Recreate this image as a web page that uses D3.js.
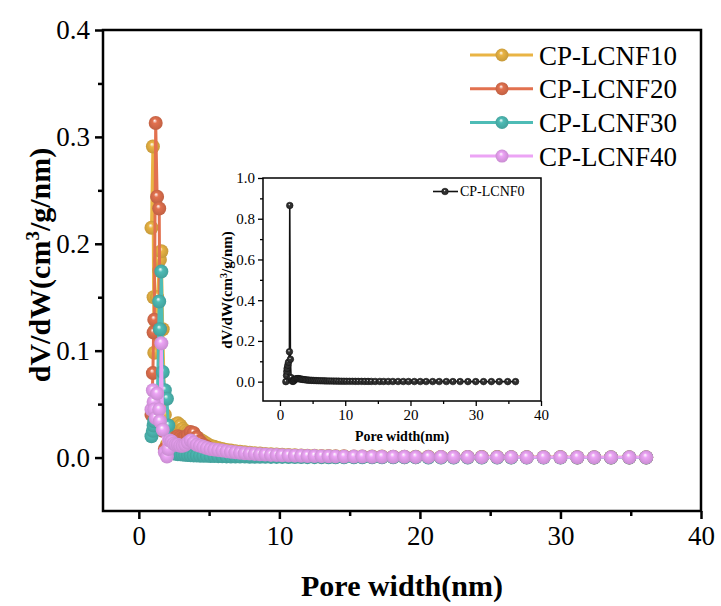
<!DOCTYPE html>
<html>
<head>
<meta charset="utf-8">
<script src="https://cdn.jsdelivr.net/npm/d3@7"></script>
<style>
body { margin: 0; background: #fff; }
text { font-family: "Liberation Serif", "Times New Roman", serif; }
</style>
</head>
<body>
<svg id="chart" width="721" height="606"></svg>
<script>
// pore width grid (nm), shared by all samples
var poreWidth = [
	0.9, 1.0, 1.05, 1.1, 1.2, 1.3, 1.45, 1.5, 1.6, 1.7,
	1.85, 2.0, 2.1, 2.2, 2.33, 2.47, 2.62, 2.78, 2.95, 3.12,
	3.3, 3.49, 3.69, 3.9, 4.12, 4.35, 4.59, 4.84, 5.1, 5.37,
	5.65, 5.94, 6.24, 6.55, 6.87, 7.2, 7.54, 7.89, 8.25, 8.62,
	9.0, 9.4, 9.8, 10.2, 10.65, 11.1, 11.55, 12.0, 12.5, 13.0,
	13.5, 14.0, 14.6, 15.3, 15.9, 16.6, 17.3, 18.1, 18.9, 19.7,
	20.6, 21.5, 22.4, 23.4, 24.4, 25.5, 26.5, 27.6, 28.8, 30.0,
	31.2, 32.4, 33.6, 34.9, 36.1
];
var lcnf10 = [
	0.215, 0.291, 0.150, 0.098, 0.120, 0.150, 0.175, 0.185, 0.193, 0.120,
	0.040, 0.012, 0.010, 0.014, 0.020, 0.026, 0.031, 0.032, 0.030, 0.027,
	0.025, 0.024, 0.023, 0.021, 0.019, 0.017, 0.015, 0.013, 0.011, 0.010,
	0.009, 0.008, 0.007, 0.0065, 0.006, 0.0055, 0.005, 0.0045, 0.004, 0.0037,
	0.0034, 0.003, 0.0028, 0.0026, 0.0024, 0.0022, 0.002, 0.0018, 0.0016, 0.0015,
	0.0014, 0.0013, 0.0012, 0.0011, 0.001, 0.0009, 0.0009, 0.0008, 0.0008, 0.0007,
	0.0007, 0.0006, 0.0006, 0.0005, 0.0005, 0.0005, 0.0004, 0.0004, 0.0004, 0.0003,
	0.0003, 0.0003, 0.0003, 0.0002, 0.0002
];
var lcnf20 = [
	0.040, 0.079, 0.117, 0.129, 0.313, 0.244, 0.233, 0.120, 0.060, 0.025,
	0.008, 0.004, 0.006, 0.010, 0.014, 0.017, 0.019, 0.020, 0.019, 0.018,
	0.019, 0.021, 0.024, 0.023, 0.019, 0.015, 0.012, 0.010, 0.008, 0.007,
	0.006, 0.005, 0.0045, 0.004, 0.0035, 0.003, 0.0028, 0.0025, 0.0022, 0.002,
	0.0018, 0.0016, 0.0015, 0.0014, 0.0013, 0.0012, 0.0011, 0.001, 0.0009, 0.0008,
	0.0008, 0.0007, 0.0007, 0.0006, 0.0006, 0.0005, 0.0005, 0.0005, 0.0004, 0.0004,
	0.0004, 0.0003, 0.0003, 0.0003, 0.0003, 0.0002, 0.0002, 0.0002, 0.0002, 0.0002,
	0.0001, 0.0001, 0.0001, 0.0001, 0.0001
];
var lcnf30 = [
	0.020, 0.025, 0.030, 0.034, 0.038, 0.042, 0.146, 0.120, 0.174, 0.080,
	0.063, 0.055, 0.030, 0.008, 0.005, 0.004, 0.0035, 0.0032, 0.003, 0.0028,
	0.0026, 0.0024, 0.0022, 0.002, 0.0019, 0.0018, 0.0017, 0.0016, 0.0015, 0.0014,
	0.0013, 0.0012, 0.0011, 0.001, 0.001, 0.0009, 0.0009, 0.0008, 0.0008, 0.0007,
	0.0007, 0.0006, 0.0006, 0.0006, 0.0005, 0.0005, 0.0005, 0.0004, 0.0004, 0.0004,
	0.0003, 0.0003, 0.0003, 0.0003, 0.0002, 0.0002, 0.0002, 0.0002, 0.0002, 0.0002,
	0.0001, 0.0001, 0.0001, 0.0001, 0.0001, 0.0001, 0.0001, 0.0001, 0.0001, 0.0001,
	0.0001, 0.0001, 0.0001, 0.0001, 0.0001
];
var lcnf40 = [
	0.045, 0.063, 0.052, 0.045, 0.037, 0.060, 0.045, 0.034, 0.107, 0.026,
	0.005, 0.001, 0.008, 0.016, 0.015, 0.013, 0.012, 0.012, 0.011, 0.011,
	0.012, 0.014, 0.016, 0.014, 0.012, 0.011, 0.010, 0.009, 0.008, 0.0075,
	0.007, 0.0065, 0.006, 0.0055, 0.005, 0.0045, 0.004, 0.0037, 0.0034, 0.003,
	0.0028, 0.0025, 0.0023, 0.0021, 0.002, 0.0018, 0.0016, 0.0015, 0.0014, 0.0013,
	0.0012, 0.0011, 0.001, 0.0009, 0.0009, 0.0008, 0.0008, 0.0007, 0.0007, 0.0006,
	0.0006, 0.0005, 0.0005, 0.0005, 0.0004, 0.0004, 0.0004, 0.0003, 0.0003, 0.0003,
	0.0003, 0.0002, 0.0002, 0.0002, 0.0002
];
// inset sample
var lcnf0 = [
	0.000, 0.030, 0.050, 0.065, 0.080, 0.095, 0.147, 0.865, 0.110, 0.020,
	0.003, 0.001, 0.004, 0.008, 0.012, 0.014, 0.015, 0.015, 0.014, 0.013,
	0.012, 0.011, 0.010, 0.009, 0.008, 0.0075, 0.007, 0.0065, 0.006, 0.0055,
	0.005, 0.0047, 0.0044, 0.0041, 0.0038, 0.0035, 0.0032, 0.003, 0.0028, 0.0026,
	0.0024, 0.0022, 0.002, 0.0019, 0.0018, 0.0017, 0.0016, 0.0015, 0.0014, 0.0013,
	0.0012, 0.0011, 0.001, 0.001, 0.0009, 0.0009, 0.0008, 0.0008, 0.0007, 0.0007,
	0.0006, 0.0006, 0.0005, 0.0005, 0.0005, 0.0004, 0.0004, 0.0004, 0.0003, 0.0003,
	0.0003, 0.0003, 0.0002, 0.0002, 0.0002
];
var seriesNames = ['CP-LCNF10', 'CP-LCNF20', 'CP-LCNF30', 'CP-LCNF40'];
var seriesColors = ['#e9b444', '#e2714f', '#4ebcb6', '#eca4f5'];
var xTicks = [0, 10, 20, 30, 40];
var yTicks = [0.0, 0.1, 0.2, 0.3, 0.4];
var insetYTicks = [0.0, 0.2, 0.4, 0.6, 0.8, 1.0];

var allSeries = [lcnf10, lcnf20, lcnf30, lcnf40];

var svg = d3.select('#chart');
var defs = svg.append('defs');

function sphereGradient(id, color) {
	var g = defs.append('radialGradient').attr('id', id)
		.attr('cx', '50%').attr('cy', '50%').attr('r', '55%')
		.attr('fx', '42%').attr('fy', '32%');
	g.append('stop').attr('offset', '0%').attr('stop-color', '#fff');
	g.append('stop').attr('offset', '30%').attr('stop-color', color);
	g.append('stop').attr('offset', '100%').attr('stop-color', d3.color(color).darker(0.5));
}
seriesColors.forEach(function (c, i) { sphereGradient('ball' + i, c); });
sphereGradient('ballBlack', '#333');

function pairs(ys) {
	return poreWidth.map(function (x, i) { return [x, ys[i]]; });
}

function styleAxis(g, fs) {
	g.select('.domain').remove();
	g.selectAll('.tick line').attr('stroke', '#000').attr('stroke-width', fs > 20 ? 2.5 : 1.3);
	g.selectAll('.tick text').attr('fill', '#000').style('font-size', fs + 'px')
		.style('font-family', '"Liberation Serif", serif');
}

// ---- main plot ----
var x = d3.scaleLinear().domain([-2.55, 40]).range([103, 701]);
var y = d3.scaleLinear().domain([-0.05, 0.4]).range([511, 30]);

var main = svg.append('g');

main.append('g').attr('transform', 'translate(0,511)')
	.call(d3.axisBottom(x).tickValues(xTicks).tickSize(8).tickPadding(7).tickFormat(d3.format('d')))
	.call(styleAxis, 27);
main.append('g').attr('transform', 'translate(0,511)')
	.call(d3.axisBottom(x).tickValues([5, 15, 25, 35]).tickSize(5).tickFormat(''))
	.call(styleAxis, 27);
main.append('g').attr('transform', 'translate(103,0)')
	.call(d3.axisLeft(y).tickValues(yTicks).tickSize(8).tickPadding(5).tickFormat(d3.format('.1f')))
	.call(styleAxis, 27);
main.append('g').attr('transform', 'translate(103,0)')
	.call(d3.axisLeft(y).tickValues([0.05, 0.15, 0.25, 0.35]).tickSize(5).tickFormat(''))
	.call(styleAxis, 27);

main.append('rect').attr('x', 103).attr('y', 30).attr('width', 598).attr('height', 481)
	.attr('fill', 'none').attr('stroke', '#000').attr('stroke-width', 2.5);

var line = d3.line().x(function (d) { return x(d[0]); }).y(function (d) { return y(d[1]); });

allSeries.forEach(function (ys, i) {
	var pts = pairs(ys);
	main.append('path').datum(pts).attr('d', line)
		.attr('fill', 'none').attr('stroke', seriesColors[i]).attr('stroke-width', 3);
	main.append('g').selectAll('circle').data(pts).enter().append('circle')
		.attr('cx', function (d) { return x(d[0]); })
		.attr('cy', function (d) { return y(d[1]); })
		.attr('r', 7).attr('fill', 'url(#ball' + i + ')');
});

// legend
var legend = main.append('g');
seriesNames.forEach(function (name, i) {
	var ly = 55 + i * 33.7;
	legend.append('line').attr('x1', 470).attr('x2', 533).attr('y1', ly).attr('y2', ly)
		.attr('stroke', seriesColors[i]).attr('stroke-width', 3);
	legend.append('circle').attr('cx', 502).attr('cy', ly).attr('r', 6.5).attr('fill', 'url(#ball' + i + ')');
	legend.append('text').attr('x', 539).attr('y', ly + 9.5).text(name)
		.style('font-size', '27px').attr('fill', '#000');
});

// axis titles
svg.append('text').attr('x', 402).attr('y', 596).attr('text-anchor', 'middle')
	.style('font-size', '30px').style('font-weight', 'bold')
	.text('Pore width(nm)');
var yt = svg.append('text').attr('transform', 'translate(50,265) rotate(-90)')
	.attr('text-anchor', 'middle').style('font-size', '30px').style('font-weight', 'bold');
yt.append('tspan').text('dV/dW(cm');
yt.append('tspan').attr('dy', -11).style('font-size', '19px').text('3');
yt.append('tspan').attr('dy', 11).text('/g/nm)');

// ---- inset ----
var ix = d3.scaleLinear().domain([-2.6, 40]).range([263, 541]);
var iy = d3.scaleLinear().domain([-0.095, 1.0]).range([401, 178]);
var inset = svg.append('g');
inset.append('rect').attr('x', 263).attr('y', 178).attr('width', 278).attr('height', 223)
	.attr('fill', '#fff');

inset.append('g').attr('transform', 'translate(0,401)')
	.call(d3.axisBottom(ix).tickValues(xTicks).tickSize(5).tickPadding(3).tickFormat(d3.format('d')))
	.call(styleAxis, 15);
inset.append('g').attr('transform', 'translate(0,401)')
	.call(d3.axisBottom(ix).tickValues([5, 15, 25, 35]).tickSize(3).tickFormat(''))
	.call(styleAxis, 15);
inset.append('g').attr('transform', 'translate(263,0)')
	.call(d3.axisLeft(iy).tickValues(insetYTicks).tickSize(5).tickPadding(3).tickFormat(d3.format('.1f')))
	.call(styleAxis, 15);
inset.append('g').attr('transform', 'translate(263,0)')
	.call(d3.axisLeft(iy).tickValues([0.1, 0.3, 0.5, 0.7, 0.9]).tickSize(3).tickFormat(''))
	.call(styleAxis, 15);

var iline = d3.line().x(function (d) { return ix(d[0]); }).y(function (d) { return iy(d[1]); });
var ipts = pairs(lcnf0);
inset.append('path').datum(ipts).attr('d', iline)
	.attr('fill', 'none').attr('stroke', '#111').attr('stroke-width', 1.6);
inset.append('g').selectAll('circle').data(ipts).enter().append('circle')
	.attr('cx', function (d) { return ix(d[0]); })
	.attr('cy', function (d) { return iy(d[1]); })
	.attr('r', 3.3).attr('fill', 'url(#ballBlack)').attr('stroke', '#111').attr('stroke-width', 0.6);

inset.append('rect').attr('x', 263).attr('y', 178).attr('width', 278).attr('height', 223)
	.attr('fill', 'none').attr('stroke', '#000').attr('stroke-width', 1.5);

inset.append('line').attr('x1', 433).attr('x2', 458).attr('y1', 191.5).attr('y2', 191.5)
	.attr('stroke', '#111').attr('stroke-width', 1.6);
inset.append('circle').attr('cx', 445).attr('cy', 191.5).attr('r', 3.3)
	.attr('fill', 'url(#ballBlack)').attr('stroke', '#111').attr('stroke-width', 0.6);
inset.append('text').attr('x', 460).attr('y', 196).text('CP-LCNF0')
	.style('font-size', '14px').attr('fill', '#000');

inset.append('text').attr('x', 402).attr('y', 441).attr('text-anchor', 'middle')
	.style('font-size', '14px').style('font-weight', 'bold').text('Pore width(nm)');
var iyt = inset.append('text').attr('transform', 'translate(232,290) rotate(-90)')
	.attr('text-anchor', 'middle').style('font-size', '15px').style('font-weight', 'bold');
iyt.append('tspan').text('dV/dW(cm');
iyt.append('tspan').attr('dy', -5).style('font-size', '10px').text('3');
iyt.append('tspan').attr('dy', 5).text('/g/nm)');
</script>
</body>
</html>
